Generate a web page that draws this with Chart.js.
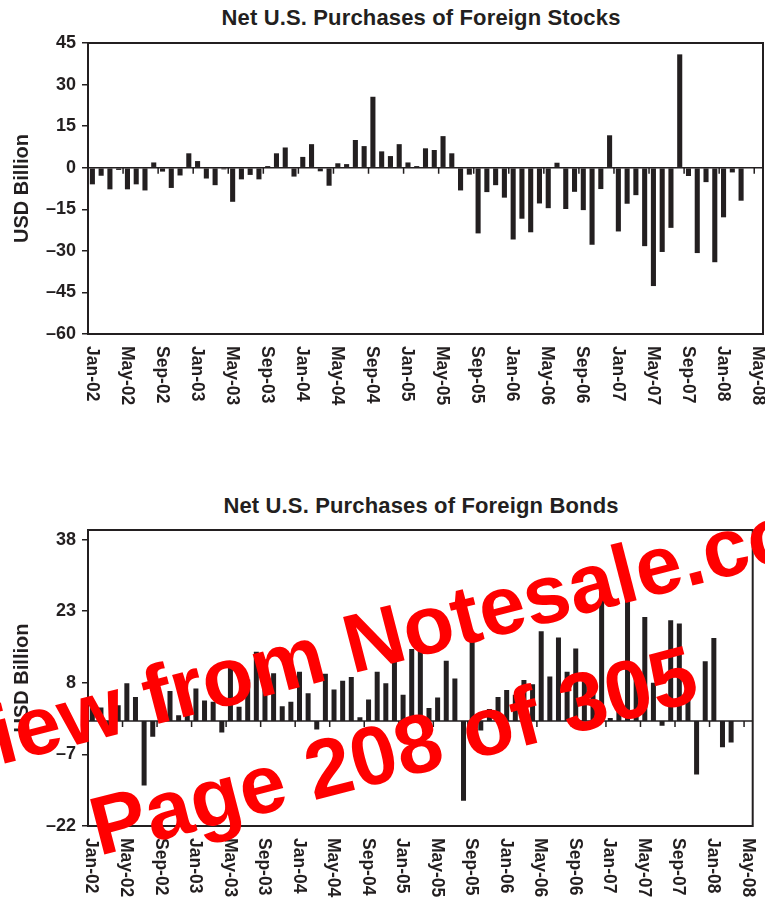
<!DOCTYPE html>
<html><head><meta charset="utf-8">
<script src="https://cdn.jsdelivr.net/npm/chart.js@4.4.0/dist/chart.umd.min.js"></script>
<style>
html,body{margin:0;padding:0;background:#fff;width:765px;height:903px;overflow:hidden;}
#wrap{position:relative;width:765px;height:903px;}
canvas{position:absolute;left:0;}
.title{position:absolute;left:421px;transform:translateX(-50%);font:bold 22px "Liberation Sans",Arial,sans-serif;color:#231f20;white-space:nowrap;line-height:22px;letter-spacing:0.15px;}
.wm{position:absolute;font:bold 83px "Liberation Sans",Arial,sans-serif;color:#ff0000;white-space:nowrap;line-height:83px;transform-origin:0 70px;transform:rotate(-14.5deg);z-index:5;}
</style></head>
<body><div id="wrap">
<div class="title" style="top:7px">Net U.S. Purchases of Foreign Stocks</div>
<canvas id="c1" width="765" height="450" style="top:0"></canvas>
<div class="title" style="top:495px">Net U.S. Purchases of Foreign Bonds</div>
<canvas id="c2" width="765" height="453" style="top:450px"></canvas>
<div class="wm" style="left:-175px;top:740px">Preview from Notesale.co</div>
<div class="wm" style="left:99px;top:786px">Page 208 of 305</div>
</div>
<script>
const categories = [
 'Jan-02','Feb-02','Mar-02','Apr-02','May-02','Jun-02','Jul-02','Aug-02','Sep-02','Oct-02','Nov-02','Dec-02',
 'Jan-03','Feb-03','Mar-03','Apr-03','May-03','Jun-03','Jul-03','Aug-03','Sep-03','Oct-03','Nov-03','Dec-03',
 'Jan-04','Feb-04','Mar-04','Apr-04','May-04','Jun-04','Jul-04','Aug-04','Sep-04','Oct-04','Nov-04','Dec-04',
 'Jan-05','Feb-05','Mar-05','Apr-05','May-05','Jun-05','Jul-05','Aug-05','Sep-05','Oct-05','Nov-05','Dec-05',
 'Jan-06','Feb-06','Mar-06','Apr-06','May-06','Jun-06','Jul-06','Aug-06','Sep-06','Oct-06','Nov-06','Dec-06',
 'Jan-07','Feb-07','Mar-07','Apr-07','May-07','Jun-07','Jul-07','Aug-07','Sep-07','Oct-07','Nov-07','Dec-07',
 'Jan-08','Feb-08','Mar-08','Apr-08','May-08'
];
const tickLabels = ['Jan-02','May-02','Sep-02','Jan-03','May-03','Sep-03','Jan-04','May-04','Sep-04','Jan-05',
 'May-05','Sep-05','Jan-06','May-06','Sep-06','Jan-07','May-07','Sep-07','Jan-08','May-08'];
const stocks = [
 -6.0,-2.9,-7.8,-0.8,-7.8,-6.0,-8.2,1.9,-1.4,-7.3,-2.8,5.2,
 2.4,-3.9,-6.3,-0.6,-12.3,-4.2,-2.6,-4.2,0.6,5.2,7.3,-3.2,
 3.9,8.5,-1.3,-6.5,1.6,1.3,10.0,7.8,25.6,5.9,4.2,8.5,
 1.9,0.6,7.0,6.4,11.4,5.2,-8.2,-2.5,-23.7,-8.8,-6.3,-10.8,
 -25.9,-18.4,-23.3,-12.9,-14.6,1.8,-14.9,-8.7,-15.3,-27.8,-7.7,11.7,
 -23.0,-13.0,-9.9,-28.3,-42.7,-30.4,-21.7,40.9,-3.0,-30.8,-5.2,-34.1,
 -17.9,-1.7,-11.9,null,null
];
const bonds = [
 4.0,2.8,-2.0,3.3,7.9,5.0,-13.5,-3.3,2.0,6.3,1.2,4.9,
 6.8,4.3,4.0,-2.4,11.9,3.0,8.7,14.5,12.9,10.0,3.1,4.0,
 10.3,5.8,-1.8,9.9,6.6,8.4,9.2,0.8,4.5,10.3,7.9,14.1,
 5.5,15.1,15.2,2.7,4.9,12.6,8.9,-16.7,17.9,-2.0,2.5,5.0,
 6.5,5.5,8.6,7.7,18.8,9.3,17.5,10.3,15.2,9.2,7.0,28.0,
 0.6,4.4,29.0,11.2,21.8,8.0,-1.0,21.1,20.4,9.3,-11.2,12.5,
 17.4,-5.5,-4.5,null,null
];
const yTicksStocks = [-60,-45,-30,-15,0,15,30,45];
const yTicksBonds = [-22,-7,8,23,38];

const ink = '#231f20';
const fam = '"Liberation Sans", Arial, Helvetica, sans-serif';

const decor = {
  id: 'decor',
  afterDatasetsDraw(chart) {
    const {ctx, chartArea: a, scales: {x, y}} = chart;
    const step = x.getPixelForValue(1) - x.getPixelForValue(0);
    const y0 = y.getPixelForValue(0);
    ctx.save();
    ctx.strokeStyle = ink;
    ctx.lineWidth = 1.5;
    ctx.beginPath();
    ctx.moveTo(a.left, y0); ctx.lineTo(a.right, y0);
    tickLabels.forEach(lbl => {
      const px = x.getPixelForValue(categories.indexOf(lbl)) - step / 2;
      ctx.moveTo(px, y0); ctx.lineTo(px, y0 + 6);
    });
    ctx.stroke();
    ctx.lineWidth = 2;
    ctx.strokeRect(a.left, a.top, a.right - a.left, a.bottom - a.top);
    ctx.fillStyle = ink;
    ctx.font = 'bold 17.5px ' + fam;
    ctx.textAlign = 'left';
    ctx.textBaseline = 'middle';
    tickLabels.forEach(lbl => {
      const px = x.getPixelForValue(categories.indexOf(lbl));
      ctx.save();
      ctx.translate(px - 1, a.bottom + 12);
      ctx.rotate(Math.PI / 2);
      ctx.fillText(lbl, 0, 0);
      ctx.restore();
    });
    ctx.restore();
  }
};

function makeChart(id, values, yTicks, min, max, pad, xHeight) {
  return new Chart(document.getElementById(id), {
    type: 'bar',
    data: {labels: categories, datasets: [{data: values, backgroundColor: ink, borderWidth: 0,
      barPercentage: 0.58, categoryPercentage: 1.0}]},
    options: {
      responsive: false, animation: false,
      layout: {padding: pad},
      plugins: {legend: {display: false}, tooltip: {enabled: false}, title: {display: false}},
      scales: {
        x: {
          grid: {display: false}, border: {display: false}, ticks: {display: false},
          afterFit: s => { s.height = xHeight; }
        },
        y: {
          min: min, max: max,
          afterBuildTicks: s => { s.ticks = yTicks.map(v => ({value: v})); },
          afterFit: s => { s.width = 88; },
          border: {display: false},
          grid: {drawOnChartArea: false, drawTicks: true, tickLength: 6, color: ink, lineWidth: 1.5},
          ticks: {color: ink, padding: 6, font: {family: fam, size: 18, weight: 'bold'},
            callback: v => String(v).replace('-', '\u2013')},
          title: {display: true, text: 'USD Billion', color: ink,
            font: {family: fam, size: 20, weight: 'bold'}, padding: {top: 10, bottom: 0}}
        }
      }
    },
    plugins: [decor]
  });
}

makeChart('c1', stocks, yTicksStocks, -60, 45, {top: 43, right: 2, left: 0, bottom: 0}, 116);
makeChart('c2', bonds, yTicksBonds, -22, 40, {top: 80, right: 12.3, left: 0, bottom: 0}, 77);
</script>
</body></html>
